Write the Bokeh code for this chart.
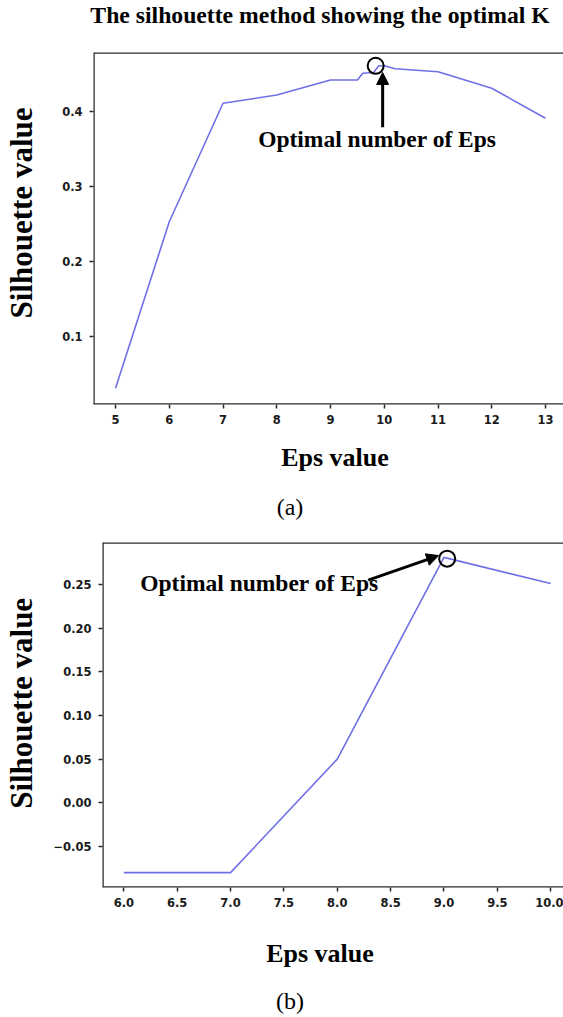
from bokeh.plotting import figure
from bokeh.models import Range1d, Span, Arrow, NormalHead, FixedTicker, Div
from bokeh.layouts import column
from bokeh.core.properties import value
from bokeh.embed import file_html
from bokeh.resources import INLINE

# ---------------- data ----------------
eps_a = [5, 6, 7, 8, 9, 9.5, 9.6, 9.8, 9.9, 10.0, 10.2, 11, 12, 13]
sil_a = [0.031, 0.253, 0.411, 0.422, 0.442, 0.442, 0.451, 0.452, 0.461, 0.461, 0.457, 0.453, 0.431, 0.391]
xticks_a = [5, 6, 7, 8, 9, 10, 11, 12, 13]
xlabels_a = ["5", "6", "7", "8", "9", "10", "11", "12", "13"]
yticks_a = [0.1, 0.2, 0.3, 0.4]
ylabels_a = ["0.1", "0.2", "0.3", "0.4"]
opt_a = (9.84, 0.461)

eps_b = [6.0, 7.0, 8.0, 9.0, 10.0]
sil_b = [-0.08, -0.08, 0.05, 0.281, 0.251]
xticks_b = [6.0, 6.5, 7.0, 7.5, 8.0, 8.5, 9.0, 9.5, 10.0]
xlabels_b = ["6.0", "6.5", "7.0", "7.5", "8.0", "8.5", "9.0", "9.5", "10.0"]
yticks_b = [-0.05, 0.0, 0.05, 0.10, 0.15, 0.20, 0.25]
ylabels_b = ["\u22120.05", "0.00", "0.05", "0.10", "0.15", "0.20", "0.25"]
opt_b = (9.03, 0.2795)

title_text = "The silhouette method showing the optimal K"
xlabel = "Eps value"
ylabel = "Silhouette value"
note = "Optimal number of Eps"
captions = ["(a)", "(b)"]

SERIF = "Liberation Serif"
SANS = "DejaVu Sans"
LINE = "#6f6fe6"
AX = "#2a2a2a"
NB = "\u00a0"


def style_axes(p, xt, xl, yt, yl, xlab, ylab, xstand, ystand):
    p.outline_line_color = None
    p.grid.visible = False
    for ax in (p.xaxis[0], p.yaxis[0]):
        ax.axis_line_color = None
        ax.major_tick_line_color = AX
        ax.major_tick_line_width = 1.5
        ax.major_tick_in = 0
        ax.major_tick_out = 4
        ax.minor_tick_line_color = None
        ax.major_label_text_font = SANS
        ax.major_label_text_font_size = "11.5px"
        ax.major_label_text_font_style = "bold"
        ax.major_label_text_color = "#1a1a1a"
        ax.axis_label_text_font = SERIF
        ax.axis_label_text_font_style = "bold"
        ax.axis_label_text_color = "black"
    xa, ya = p.xaxis[0], p.yaxis[0]
    xa.major_label_standoff = 6
    ya.major_label_standoff = 7
    xa.ticker = FixedTicker(ticks=xt)
    xa.major_label_overrides = dict(zip(xt, xl))
    ya.ticker = FixedTicker(ticks=yt)
    ya.major_label_overrides = dict(zip(yt, yl))
    xa.axis_label = xlab
    xa.axis_label_text_font_size = "26px"
    xa.axis_label_standoff = xstand
    ya.axis_label = ylab
    ya.axis_label_text_font_size = "31px"
    ya.axis_label_standoff = ystand
    # frame borders (top, bottom, left)
    p.add_layout(Span(location=p.y_range.end, dimension="width", line_color=AX, line_width=2.5))
    p.add_layout(Span(location=p.y_range.start, dimension="width", line_color=AX, line_width=2.5))
    p.add_layout(Span(location=p.x_range.start, dimension="height", line_color=AX, line_width=2.5))


def annotate(p, opt, start, end, text_pos):
    p.scatter([opt[0]], [opt[1]], size=16, marker="circle", fill_color=None,
              line_color="black", line_width=2)
    p.add_layout(Arrow(end=NormalHead(size=12, fill_color="black", line_color="black"),
                       x_start=start[0], y_start=start[1], x_end=end[0], y_end=end[1],
                       line_color="black", line_width=3))
    p.text([text_pos[0]], [text_pos[1]], text=[note], text_align="center",
           text_baseline="alphabetic", text_font=value(SERIF), text_font_style="bold",
           text_font_size="23.5px", text_color="black")


def text_div(text, height, left, width, pad_top, size, weight):
    html = (f'<div style="position:relative; left:{left}px; width:{width}px; margin:0; '
            f'padding-top:{pad_top}px; text-align:center; white-space:nowrap; '
            f"font-family:'{SERIF}'; font-weight:{weight}; font-size:{size}; "
            f'line-height:1; color:black;">{text}</div>')
    return Div(text=html, width=563, height=height, styles={"margin": "0", "padding": "0"})


# ---------------- title ----------------
div_title = text_div(title_text, 40, 77, 486, 4, "23.7px", "bold")

# ---------------- panel (a) ----------------
pa = figure(width=563, height=434, x_range=Range1d(4.59, 13.335),
            y_range=Range1d(0.0093, 0.4787), output_backend="svg",
            toolbar_location=None, min_border_left=93, min_border_right=0,
            min_border_top=12, min_border_bottom=70, frame_align=False)
style_axes(pa, xticks_a, xlabels_a, yticks_a, ylabels_a,
           NB * 2 + xlabel, NB * 4 + ylabel, 16, 20)
pa.line(eps_a, sil_a, line_color=LINE, line_width=1.6)
annotate(pa, opt_a, (9.97, 0.379), (9.97, 0.452), (9.87, 0.3633))
div_a = text_div(captions[0], 47, 17, 546, 21, "24px", "normal")

# ---------------- panel (b) ----------------
pb = figure(width=563, height=449, x_range=Range1d(5.80, 10.12),
            y_range=Range1d(-0.097, 0.298), output_backend="svg",
            toolbar_location=None, min_border_left=102, min_border_right=0,
            min_border_top=21, min_border_bottom=79, frame_align=False)
style_axes(pb, xticks_b, xlabels_b, yticks_b, ylabels_b,
           xlabel + NB * 4, NB * 3 + ylabel, 29, 11)
pb.line(eps_b, sil_b, line_color=LINE, line_width=1.6)
annotate(pb, opt_b, (8.29, 0.255), (8.95, 0.283), (7.27, 0.2517))
div_b = text_div(captions[1], 47, 17, 546, 19, "24px", "normal")

layout = column(div_title, pa, div_a, pb, div_b, spacing=0)
open("out.html", "w").write(file_html(layout, INLINE))
